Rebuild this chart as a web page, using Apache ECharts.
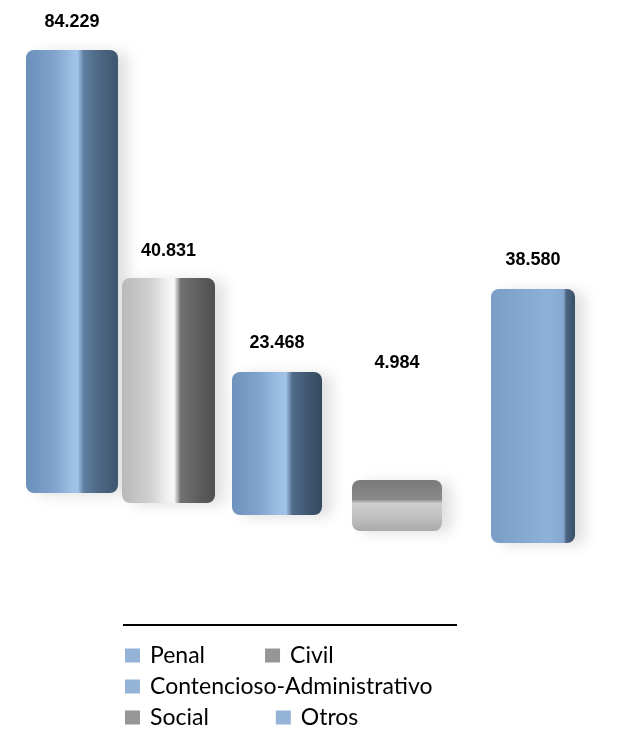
<!DOCTYPE html>
<html>
<head>
<meta charset="utf-8">
<style>
  html, body { margin: 0; padding: 0; background: #ffffff; }
  #chart { width: 621px; height: 729px; }
</style>
<script src="https://cdn.jsdelivr.net/npm/echarts@6/dist/echarts.min.js"></script>
</head>
<body>
<div id="chart"></div>
<script>
// ---- data ----
const categories = ['Penal', 'Civil', 'Contencioso-Administrativo', 'Social', 'Otros'];
const values = [84229, 40831, 23468, 4984, 38580];
const legendRows = [['Penal', 'Civil'], ['Contencioso-Administrativo'], ['Social', 'Otros']];

// ---- layout (perspective: each bar has its own floor line and scale) ----
const barBoxes = [
  { left: 26,  top: 50,  width: 92, height: 443 },
  { left: 122, top: 278, width: 93, height: 225 },
  { left: 232, top: 372, width: 90, height: 143 },
  { left: 352, top: 480, width: 90, height: 51 },
  { left: 491, top: 289, width: 84, height: 254 }
];
const labelDistance = [19, 18, 20, 108, 20];

const blue = '#95b3d7', gray = '#969696';
const legendColors = { 'Penal': blue, 'Civil': gray, 'Contencioso-Administrativo': blue, 'Social': gray, 'Otros': blue };

function hGrad(stops) {
  return new echarts.graphic.LinearGradient(0, 0, 1, 0, stops.map(s => ({ offset: s[0], color: s[1] })));
}
function vGrad(stops) {
  return new echarts.graphic.LinearGradient(0, 0, 0, 1, stops.map(s => ({ offset: s[0], color: s[1] })));
}
const fills = [
  hGrad([[0, '#6a8fba'], [0.3, '#7fa3cc'], [0.5, '#9cbee4'], [0.56, '#a3c4ea'], [0.63, '#5f7d9e'], [0.8, '#4c6782'], [1, '#3e5670']]),
  hGrad([[0, '#b9b9b9'], [0.3, '#d0d0d0'], [0.5, '#f2f2f2'], [0.56, '#f8f8f8'], [0.63, '#727272'], [0.85, '#5c5c5c'], [1, '#4e4e4e']]),
  hGrad([[0, '#6e92bd'], [0.3, '#80a4cd'], [0.52, '#9dbfe5'], [0.6, '#a2c3e8'], [0.67, '#506b88'], [0.85, '#3f566f'], [1, '#34495e']]),
  vGrad([[0, '#7a7a7a'], [0.38, '#8a8a8a'], [0.46, '#cfcfcf'], [0.7, '#c2c2c2'], [1, '#aaaaaa']]),
  hGrad([[0, '#7a9dc6'], [0.4, '#86a9d2'], [0.7, '#8eb1da'], [0.86, '#86a8d0'], [0.9, '#4a6480'], [1, '#3a5068']])
];

function fmt(v) {
  return String(v).replace(/\B(?=(\d{3})+(?!\d))/g, '.');
}

const grids = [], xAxes = [], yAxes = [], series = [];
categories.forEach((name, i) => {
  const b = barBoxes[i];
  grids.push({ left: b.left, top: b.top, width: b.width, height: b.height, containLabel: false });
  xAxes.push({ type: 'category', gridIndex: i, data: [name], show: false });
  yAxes.push({ type: 'value', gridIndex: i, min: 0, max: 'dataMax', show: false });
  series.push({
    type: 'bar',
    name: name,
    xAxisIndex: i,
    yAxisIndex: i,
    barWidth: '100%',
    data: [values[i]],
    itemStyle: {
      color: fills[i],
      borderRadius: 8,
      shadowColor: 'rgba(0,0,0,0.12)',
      shadowBlur: 14,
      shadowOffsetX: 10,
      shadowOffsetY: 2
    },
    label: {
      show: true,
      position: 'top',
      distance: labelDistance[i],
      formatter: p => fmt(p.value),
      fontFamily: '"Liberation Sans", Arial, sans-serif',
      fontWeight: 'bold',
      fontSize: 18,
      color: '#000000'
    },
    emphasis: { disabled: true }
  });
});

const legendTops = [644, 675, 706];
const legendGaps = [60, 10, 67];
const legends = legendRows.map((row, r) => ({
  left: 125,
  top: legendTops[r],
  padding: 0,
  orient: 'horizontal',
  icon: 'rect',
  itemWidth: 15,
  itemHeight: 14,
  itemGap: legendGaps[r],
  selectedMode: false,
  textStyle: { fontFamily: 'Lato, sans-serif', fontSize: 23, color: '#000000', padding: [0, 0, 0, 5] },
  data: row.map(n => ({ name: n, itemStyle: { color: legendColors[n], borderWidth: 0, shadowBlur: 0, shadowOffsetX: 0, shadowOffsetY: 0 } }))
}));

const chart = echarts.init(document.getElementById('chart'), null, { renderer: 'canvas' });
chart.setOption({
  backgroundColor: '#ffffff',
  animation: false,
  grid: grids,
  xAxis: xAxes,
  yAxis: yAxes,
  legend: legends,
  series: series,
  graphic: [{
    type: 'line',
    shape: { x1: 123, y1: 625, x2: 457, y2: 625 },
    style: { stroke: '#000000', lineWidth: 2 }
  }]
});
</script>
</body>
</html>
